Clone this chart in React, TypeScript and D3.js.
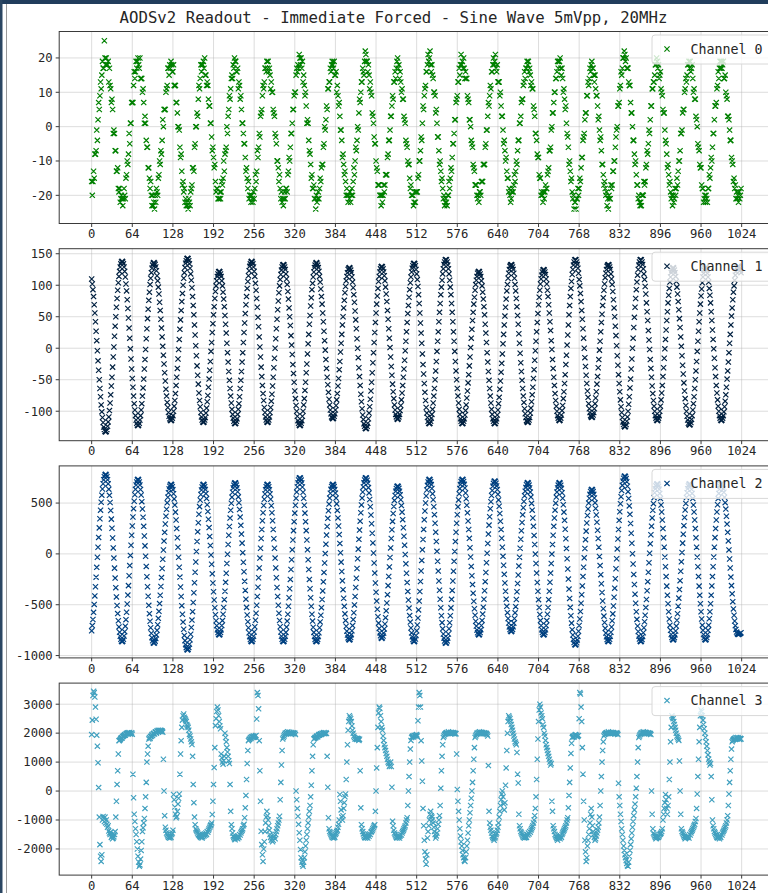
import React from "react";
import * as d3 from "d3";

const xTickValues = [0, 64, 128, 192, 256, 320, 384, 448, 512, 576, 640, 704, 768, 832, 896, 960, 1024];
const channelNames = ["Channel 0", "Channel 1", "Channel 2", "Channel 3"];
const channelColors = ["#008000", "#002040", "#004080", "#40a0bf"];
const ch0YTicks = [-20, -10, 0, 10, 20];
const ch1YTicks = [-100, -50, 0, 50, 100, 150];
const ch2YTicks = [-1000, -500, 0, 500];
const ch3YTicks = [-2000, -1000, 0, 1000, 2000, 3000];
const ch0Domain = [-28.2, 27.7];
const ch1Domain = [-146.8, 158];
const ch2Domain = [-1023, 865.6];
const ch3Domain = [-2903, 3729];
const xDomain = [-51.15, 1074.15];
const titleText = "AODSv2 Readout - Immediate Forced - Sine Wave 5mVpp, 20MHz";

const channel0 = [
-16,-20,-16,-13,-15,-8,-8,-7,-1,-4,2,7,5,9,13,11,15,19,17,17,25,20,
18,20,18,18,19,13,17,12,11,7,8,5,-2,-1,-2,-7,-7,-13,-13,-12,-18,-19,-18,-22,-21,-20,
-21,-23,-21,-18,-20,-21,-15,-14,-10,-11,-8,-2,-5,1,1,7,7,7,12,16,14,16,19,17,19,
20,18,17,20,14,14,14,10,11,7,1,3,1,-4,-6,-6,-12,-12,-15,-18,-16,-20,-23,-20,-23,
-22,-24,-20,-22,-18,-19,-20,-15,-14,-10,-11,-7,-8,-4,2,0,5,5,5,10,11,12,17,17,15,18,17,
19,18,16,16,18,12,12,12,7,7,4,0,0,-1,-6,-9,-8,-13,-17,-16,-19,-18,-22,-21,-23,-22,
-23,-24,-21,-22,-23,-19,-18,-17,-12,-12,-13,-6,-5,0,0,4,3,8,12,11,14,18,16,18,18,
19,17,20,15,15,12,13,12,8,6,6,1,1,-3,-7,-6,-9,-12,-11,-16,-19,-18,-18,-21,-21,
-21,-19,-21,-19,-16,-17,-15,-10,-13,-8,-7,-6,0,-2,3,5,9,8,11,14,15,14,18,17,20,
19,19,16,16,17,11,13,12,8,9,5,1,1,-2,-5,-5,-9,-13,-12,-15,-18,-16,-21,-20,-20,-22,
-20,-21,-22,-19,-21,-18,-14,-16,-13,-7,-9,-6,-2,-3,3,4,5,9,12,11,13,17,17,16,19,
17,19,16,17,15,11,13,10,10,5,4,3,-2,-3,-5,-10,-10,-12,-16,-14,-18,-21,-19,-22,-21,
-23,-21,-19,-21,-18,-18,-19,-14,-13,-9,-10,-6,-2,-2,1,5,5,9,10,10,15,17,16,18,17,21,
20,18,20,17,19,13,15,12,9,10,6,1,2,1,-4,-7,-8,-11,-15,-14,-18,-18,-17,-21,-21,-24,
-20,-22,-21,-19,-21,-18,-15,-16,-12,-11,-11,-6,-5,0,-1,2,6,5,11,11,13,13,17,16,18,19,
18,17,19,15,15,16,10,12,9,6,7,3,-1,-1,-4,-9,-8,-11,-14,-13,-16,-20,-18,-20,-22,-20,
-21,-19,-22,-20,-18,-20,-16,-12,-14,-10,-6,-7,-4,0,-1,4,8,7,10,13,13,17,16,15,19,22,
21,19,19,16,18,15,11,13,10,9,4,3,1,-3,-5,-5,-10,-12,-13,-17,-17,-17,-20,-20,-23,
-20,-22,-20,-17,-19,-17,-14,-14,-14,-9,-8,-4,-4,-1,3,3,6,9,8,13,13,16,14,17,19,
20,17,18,14,16,13,10,11,8,8,3,2,1,-4,-5,-6,-10,-11,-11,-15,-18,-17,-20,-20,-20,-23,
-22,-19,-22,-19,-19,-19,-15,-14,-10,-10,-7,-3,-4,1,6,5,9,11,12,16,16,18,21,19,
20,22,18,16,18,15,14,10,10,9,4,5,1,-3,-3,-7,-11,-10,-13,-16,-15,-18,-21,-20,-23,-22,
-21,-22,-23,-20,-20,-16,-18,-15,-12,-13,-9,-5,-5,-2,2,2,7,8,9,13,13,17,15,18,21,18,
19,17,20,17,14,16,14,14,9,8,7,2,2,0,-4,-5,-6,-11,-12,-13,-17,-17,-17,-20,-21,-20,
-22,-19,-19,-20,-16,-16,-16,-11,-11,-11,-6,-5,-1,-1,3,7,6,9,12,11,16,16,18,20,18,
19,21,17,16,18,13,13,13,9,10,6,3,3,-1,-5,-4,-7,-10,-9,-13,-15,-15,-19,-18,-20,-22,
-21,-19,-18,-19,-17,-14,-16,-13,-10,-11,-7,-4,-4,1,1,3,7,8,8,12,13,16,14,17,17,19,
18,19,16,17,15,12,13,11,11,6,5,3,-2,-2,-4,-8,-9,-9,-14,-15,-15,-20,-19,-20,-22,
-19,-21,-19,-17,-18,-18,-14,-13,-12,-7,-7,-6,-1,0,4,4,7,10,10,14,14,16,19,17,19,
19,20,17,15,17,14,10,11,8,5,6,1,-2,-3,-6,-11,-10,-13,-16,-15,-19,-21,-20,-24,-22,
-22,-24,-21,-21,-18,-20,-18,-15,-16,-12,-9,-9,-4,-3,-2,2,4,4,9,9,13,12,14,17,16,18,
19,17,17,15,13,15,11,9,9,6,2,3,-1,-4,-3,-7,-11,-11,-14,-17,-16,-18,-20,-19,-23,-21,
-24,-20,-21,-21,-17,-18,-17,-13,-13,-10,-10,-6,-3,-1,0,6,6,7,11,12,16,15,17,20,20,22,
21,19,20,17,17,17,13,12,12,7,4,4,0,-4,-4,-8,-11,-10,-14,-17,-17,-21,-20,-22,-23,
-22,-23,-20,-20,-20,-16,-17,-16,-12,-11,-7,-8,-5,-1,-2,2,6,6,11,11,13,13,15,18,18,20,
19,17,18,14,15,16,11,10,9,5,4,4,-1,-4,-5,-8,-12,-11,-14,-17,-16,-19,-21,-20,-23,
-20,-22,-21,-18,-20,-18,-15,-17,-13,-10,-10,-7,-2,-2,-1,4,5,5,10,11,14,13,15,18,18,19,
17,19,16,17,18,14,10,11,8,8,3,2,0,-5,-6,-7,-11,-12,-12,-17,-18,-18,-22,-21,-20,
-22,-20,-21,-22,-18,-18,-14,-15,-12,-9,-10,-6,-2,-2,2,6,6,7,11,12,16,14,17,19,17,
19,17,18,19,14,14,15,10,9,8,3,3,2,-1,-4,-4,-9,-10,-11,-16,-15,-18,-17,-21,-19,-21,
-20,-22,-19,-21,-20,-18
];

const channel1 = [
110,102,93,82,69,56,42,27,12,-4,-20,-35,-50,-64,-77,-90,-101,-110,-118,-125,-129,-132,
-133,-132,-129,-124,-117,-109,-99,-87,-74,-60,-46,-30,-14,2,19,35,50,65,79,92,104,114,122,129,134,137,
138,137,134,129,122,113,102,91,77,63,48,32,16,-1,-17,-33,-48,-62,-76,-88,-98,-107,-114,-119,-122,
-123,-122,-119,-114,-107,-98,-88,-76,-63,-49,-33,-18,-2,15,31,47,62,76,89,101,111,120,127,132,135,
136,135,133,129,123,115,107,97,86,73,60,46,32,18,3,-11,-25,-39,-52,-65,-76,-86,-94,-102,-108,-112,-114,
-115,-114,-111,-107,-100,-92,-83,-72,-59,-46,-32,-17,-2,14,30,45,60,74,87,100,111,120,128,135,139,142,
143,142,139,134,127,118,108,96,82,68,53,37,21,4,-12,-28,-43,-57,-71,-83,-93,-102,-109,-114,-117,
-118,-117,-114,-110,-103,-95,-85,-75,-62,-49,-35,-21,-5,9,25,39,53,66,79,90,99,107,114,118,121,
122,121,118,114,107,99,89,78,66,52,38,24,8,-7,-22,-37,-51,-64,-76,-87,-97,-105,-111,-116,-119,
-120,-119,-116,-112,-105,-97,-88,-77,-64,-51,-37,-22,-7,9,25,40,55,69,82,95,106,115,123,130,134,137,
138,137,134,129,122,114,103,92,79,65,49,34,18,2,-14,-30,-45,-59,-72,-83,-94,-102,-109,-114,-117,
-118,-117,-114,-109,-102,-94,-84,-73,-60,-46,-31,-16,0,15,31,46,61,75,88,99,109,117,124,129,132,
133,132,129,125,118,110,101,90,78,64,50,36,20,5,-10,-26,-40,-54,-68,-80,-91,-100,-108,-115,-119,-122,
-123,-122,-119,-115,-108,-100,-90,-80,-67,-54,-39,-25,-9,7,22,38,52,67,80,93,103,113,121,128,132,135,
136,135,132,128,122,114,105,94,82,70,56,42,27,12,-3,-18,-32,-46,-58,-70,-81,-90,-98,-104,-109,-111,
-112,-111,-108,-104,-98,-91,-82,-72,-60,-48,-34,-21,-6,8,22,37,50,64,76,88,98,107,114,120,125,127,
128,127,124,120,113,105,96,85,73,59,45,31,15,0,-15,-31,-45,-59,-73,-85,-96,-106,-113,-120,-124,-127,
-128,-127,-124,-119,-112,-103,-93,-81,-68,-54,-39,-23,-7,9,25,41,56,70,83,95,106,114,121,126,129,
130,129,126,121,115,107,97,86,74,60,46,31,16,1,-14,-29,-43,-57,-69,-80,-90,-98,-105,-109,-112,
-113,-112,-109,-105,-99,-91,-82,-71,-59,-46,-33,-19,-4,11,26,41,55,68,81,93,104,113,121,127,131,134,
135,134,131,125,118,109,98,85,71,56,40,24,8,-9,-26,-41,-56,-70,-83,-94,-103,-110,-116,-119,
-120,-119,-116,-111,-105,-97,-87,-76,-64,-50,-36,-21,-5,11,26,42,57,71,85,97,108,118,126,133,137,140,
141,140,137,132,126,118,108,97,85,71,57,42,26,11,-5,-21,-36,-50,-64,-76,-87,-97,-105,-112,-116,-119,
-120,-119,-116,-112,-106,-99,-90,-79,-68,-55,-42,-28,-14,1,16,30,44,57,70,81,92,101,108,114,119,121,
122,121,118,114,107,99,89,78,66,53,38,24,9,-7,-22,-37,-51,-64,-76,-87,-97,-105,-112,-116,-119,
-120,-119,-116,-112,-106,-98,-88,-78,-65,-52,-38,-24,-9,7,22,37,51,65,78,91,101,111,119,125,130,132,
133,132,129,125,119,111,101,91,79,66,52,38,23,8,-8,-23,-37,-51,-64,-76,-86,-96,-104,-110,-115,-117,
-118,-117,-114,-110,-103,-95,-85,-74,-62,-48,-34,-19,-4,11,26,41,55,69,81,92,102,110,116,121,124,
125,124,121,117,110,102,92,82,69,56,42,28,12,-2,-18,-32,-46,-59,-72,-83,-92,-100,-107,-111,-114,
-115,-114,-111,-106,-99,-91,-80,-69,-56,-42,-26,-11,5,21,37,53,68,82,95,106,117,125,132,137,140,
141,140,137,133,127,119,109,99,87,74,60,46,31,16,0,-15,-29,-43,-56,-68,-78,-88,-96,-102,-107,-109,
-110,-109,-106,-102,-96,-88,-79,-69,-57,-45,-31,-18,-3,11,26,41,54,68,80,92,102,112,119,125,130,132,
133,132,129,125,118,110,101,90,77,64,50,35,20,4,-12,-27,-42,-56,-69,-82,-93,-102,-110,-117,-121,-124,
-125,-124,-121,-116,-109,-100,-89,-77,-63,-49,-33,-17,0,16,33,49,65,79,93,105,116,125,132,137,140,
141,140,137,133,126,118,109,98,86,72,58,44,28,13,-2,-18,-32,-46,-60,-72,-83,-92,-100,-107,-111,-114,
-115,-114,-111,-107,-100,-92,-82,-71,-59,-45,-31,-16,-1,14,29,44,58,72,84,95,105,113,120,124,127,
128,127,124,120,114,106,97,86,74,61,47,33,18,3,-12,-27,-41,-55,-68,-80,-91,-100,-108,-114,-119,-121,
-122,-121,-118,-113,-107,-98,-88,-77,-64,-50,-36,-21,-5,11,27,42,56,70,83,94,104,113,119,124,127,
128,127,124,119,113,105,95,84,72,58,44,29,14,-1,-16,-31,-45,-59,-71,-82,-92,-100,-107,-111,-114,
-115,-114,-111,-107,-101,-93,-84,-74,-62,-49,-36,-22,-7,8,22,37,51,64,77,89,99,108,116,122,127,129,
130,130,129,127,124,120
];

const channel2 = [
-757,-705,-645,-575,-497,-413,-323,-229,-132,-33,65,162,256,346,430,508,578,638,690,730,759,777,
783,777,759,729,689,637,576,506,427,342,252,157,59,-41,-140,-238,-332,-423,-508,-587,-657,-718,-770,-810,-840,-858,
-864,-858,-839,-808,-765,-711,-647,-574,-493,-405,-312,-215,-115,-15,85,183,275,363,445,518,582,635,678,708,728,
734,728,708,678,634,579,514,442,360,271,176,79,-23,-123,-225,-323,-417,-506,-588,-662,-727,-780,-824,-854,-874,
-880,-875,-858,-833,-797,-752,-697,-634,-565,-489,-407,-321,-233,-143,-52,38,126,212,294,370,439,502,557,602,638,665,680,
685,679,661,632,592,541,480,411,333,249,159,65,-33,-131,-228,-326,-419,-509,-594,-671,-741,-802,-853,-893,-922,-940,
-946,-939,-920,-889,-845,-791,-724,-651,-568,-478,-382,-284,-181,-80,23,122,217,307,390,465,530,584,628,659,678,
685,679,661,633,593,544,483,417,341,259,172,83,-11,-102,-196,-286,-372,-454,-530,-598,-657,-706,-746,-774,-792,
-798,-792,-774,-746,-705,-656,-594,-527,-450,-368,-280,-190,-95,-3,92,183,270,352,429,498,558,607,648,676,694,
700,694,677,648,611,561,503,437,362,281,195,106,12,-82,-176,-270,-359,-445,-526,-601,-667,-726,-775,-814,-842,-858,
-864,-858,-839,-810,-768,-717,-653,-584,-505,-419,-328,-235,-138,-41,56,151,240,326,405,476,538,589,631,660,679,
685,679,660,631,589,538,474,405,326,240,149,56,-41,-138,-235,-330,-419,-505,-584,-655,-717,-768,-810,-839,-858,
-864,-858,-840,-811,-772,-720,-661,-593,-515,-431,-343,-251,-154,-57,40,137,229,317,401,479,547,608,658,698,727,744,
750,744,726,697,658,606,547,479,401,317,229,137,40,-57,-154,-251,-343,-431,-515,-593,-661,-722,-772,-812,-841,-858,
-864,-858,-841,-813,-776,-726,-669,-604,-529,-449,-364,-275,-182,-89,3,96,185,270,350,425,490,549,597,635,663,679,
685,679,662,634,598,549,492,428,354,274,190,103,11,-81,-173,-265,-352,-436,-516,-590,-654,-712,-760,-798,-826,-841,
-847,-841,-823,-794,-756,-705,-646,-579,-502,-419,-331,-240,-144,-48,47,143,234,322,405,482,549,609,659,699,728,744,
750,744,725,695,652,600,535,464,383,296,203,108,9,-90,-189,-286,-377,-464,-545,-618,-681,-733,-776,-806,-825,
-831,-825,-807,-779,-738,-689,-627,-560,-483,-401,-312,-222,-128,-35,59,151,238,320,397,466,526,575,616,644,662,
668,662,645,617,581,532,475,411,337,257,173,86,-6,-98,-190,-282,-369,-453,-533,-607,-671,-729,-777,-815,-843,-858,
-864,-857,-837,-803,-757,-699,-630,-551,-464,-370,-271,-168,-64,40,142,241,335,422,501,570,628,674,708,728,
735,729,711,682,643,591,532,464,386,302,214,122,25,-72,-169,-266,-358,-446,-530,-608,-676,-737,-788,-828,-857,-874,
-880,-874,-856,-827,-788,-736,-677,-609,-531,-447,-359,-267,-170,-73,24,121,213,301,385,463,531,592,642,682,711,728,
735,729,712,684,648,599,542,478,404,324,240,153,61,-31,-123,-215,-302,-386,-466,-540,-604,-662,-710,-748,-776,-791,
-798,-792,-774,-745,-704,-654,-592,-524,-446,-363,-273,-183,-87,7,102,195,283,366,444,513,574,624,665,694,712,
718,712,696,669,633,586,531,469,398,321,239,154,65,-24,-112,-201,-286,-368,-445,-516,-578,-635,-680,-718,-744,-759,
-765,-759,-743,-717,-681,-635,-580,-519,-448,-372,-291,-208,-120,-32,56,144,228,309,384,454,516,572,617,654,680,695,
701,695,677,649,608,559,497,430,353,271,182,92,-2,-95,-189,-281,-368,-450,-527,-596,-656,-705,-746,-774,-792,
-798,-792,-774,-746,-705,-656,-594,-527,-450,-368,-279,-189,-95,-2,92,184,271,353,430,499,559,608,649,677,695,
701,695,676,645,602,548,484,411,330,242,149,52,-48,-148,-248,-346,-438,-526,-608,-681,-745,-798,-841,-871,-891,
-897,-891,-874,-846,-810,-761,-704,-640,-566,-486,-402,-315,-223,-131,-39,53,140,224,304,378,442,500,548,586,614,629,
635,629,613,586,550,502,446,383,311,233,151,65,-25,-115,-204,-294,-380,-463,-540,-612,-675,-732,-779,-816,-843,-858,
-864,-857,-840,-810,-771,-719,-658,-590,-512,-427,-337,-244,-146,-48,49,147,240,330,415,493,562,624,674,715,744,761,
767,760,741,710,666,612,545,472,389,299,203,105,2,-99,-202,-301,-396,-486,-569,-644,-709,-763,-807,-838,-857,
-864,-858,-841,-813,-775,-726,-668,-603,-528,-448,-362,-273,-180,-87,6,99,188,273,354,429,494,553,601,640,668,684,
690,684,665,636,595,544,481,412,333,249,158,66,-31,-126,-223,-317,-406,-490,-569,-640,-701,-752,-793,-822,-841,
-847,-841,-824,-796,-759,-710,-653,-589,-515,-435,-351,-263,-171,-78,14,106,194,278,358,432,496,555,602,641,668,684,
690,684,665,636,595,544,481,412,333,249,158,66,-31,-126,-223,-317,-406,-490,-569,-640,-701,-752,-793,-822,-841,
-847,-841,-822,-793,-752,-701,-638,-569,-490,-406,-315,-223,-126,-31,66,160,249,333,412,483,544,595,636,665,684,
690,684,668,641,606,558,504,441,370,293,212,128,39,-50,-139,-228,-312,-393,-470,-541,-604,-660,-706,-743,-769,-784,
-790,-792,-789,-785,-780,-775
];

const channel3 = [
1950,2450,3300,3450,3400,3250,2900,2480,1930,1550,980,120,-900,-1850,-2250,-2430,-2200,
-1000,-880,-950,-1050,-900,-1100,-1000,-1150,-1250,-1200,-1380,-1450,-1500,-1420,-1600,-1550,-1650,-1620,-1580,-1500,-1400,
-900,-350,230,700,1280,1740,
1750,1780,1820,1850,1830,1880,1900,1920,1950,1930,1970,2000,1990,2010,1980,2020,2000,1970,1990,2010,1960,
580,-230,-800,
-1050,-1300,-1500,-1750,-2000,-2250,-2450,-2600,-2550,-2350,-2050,-1750,-1400,-1270,-1100,-950,-600,-200,300,1000,
1280,1550,1800,1850,1820,1880,1900,1950,1920,1980,2000,1970,2030,2050,2000,2080,2050,2100,2060,2080,2100,2050,2090,2070,2030,
1100,0,-850,-1250,
-1350,-1450,-1500,-1550,-1600,-1580,-1620,-1550,-1600,-1500,-1450,-1350,
-120,-300,-550,-800,-920,-880,-700,-450,-250,-100,
580,1280,1740,2200,2450,
2600,2660,2550,2500,2450,2400,2300,2250,2200,2100,1960,1900,1800,1700,
1610,1200,230,-400,-900,-1160,-1300,
-1350,-1400,-1450,-1500,-1520,-1550,-1580,-1600,-1560,-1620,-1580,-1500,-1550,-1480,-1520,-1450,-1500,-1400,-1420,-1350,-1300,-1250,-1200,-1160,-1100,
-810,-350,230,810,1500,
2260,2500,2750,2900,2800,2600,2400,2250,2150,1280,1150,1000,930,1050,1200,2000,1850,1700,1500,1350,1200,1050,950,
230,-700,
-1160,-1300,-1450,-1550,-1600,-1650,-1680,-1620,-1600,-1580,-1650,-1550,-1600,-1500,-1520,-1450,-1400,-1350,-1300,-1200,-1150,
-920,-580,-150,400,950,1400,1740,
1780,1800,1850,1820,1870,1880,1850,1900,1860,1880,1900,1920,
2490,3400,3300,2840,1740,700,-350,-1390,-1850,-2200,-2430,
-2000,-1750,-1400,-1100,-900,-700,-850,-1000,-1200,-1350,-1500,-1600,-1700,-1650,-1750,-1700,-1600,-1550,-1650,-1500,-1400,-1300,-1200,-1100,-1000,
-870,-300,300,900,1400,1800,
1850,1900,1950,2000,1980,2020,2000,2050,1990,2010,2030,2000,1970,2020,2000,1980,2010,1990,2000,1950,
0,-300,-600,-870,-1150,-1440,-1700,-2020,-2300,-2450,-2540,-2600,-2450,-2300,
-2100,-1900,-1700,-1500,-1300,-1100,-900,-700,-500,-200,200,700,1200,1600,
1800,1820,1850,1840,1880,1900,1870,1920,1950,1930,1960,1980,1950,2000,1990,2000,2020,1980,2000,2010,1990,
1200,130,-920,-1300,
-1400,-1450,-1500,-1550,-1600,-1580,-1620,-1550,-1600,-1500,-1450,-1400,-1350,-1250,-1150,-1000,
-120,-350,-650,-900,-1000,-850,-600,-400,-200,-100,
400,1000,1600,2100,2400,
2600,2550,2500,2400,2250,2100,2000,1900,1850,1800,1820,
1800,1780,1820,1800,1750,1790,700,-580,-1160,
-1300,-1400,-1480,-1550,-1600,-1620,-1580,-1600,-1550,-1620,-1500,-1560,-1480,-1500,-1420,-1400,-1350,-1300,-1250,-1200,-1160,
-700,0,800,1500,2200,
2700,2900,2850,2600,2400,
2200,2100,1900,1750,1600,1500,1400,1300,1200,1100,1000,950,850,900,1000,850,130,
-1040,-1200,-1350,-1450,-1500,-1550,-1600,-1620,-1580,-1600,-1560,-1620,-1550,-1500,-1520,-1450,-1400,-1350,-1300,-1250,-1200,-1100,-1000,
-920,-500,0,500,1000,1450,1750,
1850,1880,1900,1870,1920,1900,1930,1910,1950,1900,
2430,2900,3400,3300,2900,1740,1040,340,-600,
-1200,-1700,-2100,-2350,-2530,
-2200,-1620,-1400,-1200,-1000,-800,-700,-850,-900,-1000,-1100,-1250,-1400,-1500,-1620,-1550,-1450,-1300,-1150,-1000,-850,
-500,100,700,1200,1600,1850,
1900,1950,1980,2000,2020,1990,2000,2050,2010,2000,1980,2030,2000,2010,1990,2020,2000,1970,2000,1980,
1280,55,-350,-700,-1000,-1300,-1550,-1750,-1900,-2050,-2200,-2300,-2400,-2430,
-2300,-2100,-1900,-1700,-1450,-1200,-1000,-750,-500,-250,0,300,700,1100,1500,1850,
1900,1950,2000,1980,2020,2000,2050,2010,1990,2030,2000,2020,1980,2000,2010,1970,2000,1990,1950,1900,
880,-700,-1100,-1250,
-1350,-1450,-1550,-1600,-1650,-1700,-1620,-1580,-1500,-1450,-1350,-1250,-1100,
-900,-700,-500,-300,-100,0,-200,-450,-650,-400,200,
800,1400,2000,2400,
2600,2550,2500,2400,2300,2200,2100,2000,1900,1800,1700,1650,1600,
1330,580,280,-800,
-1200,-1300,-1400,-1450,-1500,-1550,-1600,-1580,-1620,-1600,-1550,-1600,-1500,-1520,-1450,-1480,-1400,-1420,-1350,-1300,-1250,-1200,-1100,-1000,-850,-600,
-200,400,1100,1800,2400,
2800,3000,2900,2700,2600,2500,2300,2200,2000,
1900,1750,1600,1500,1400,1300,1200,1100,1000,900,950,-350,-700,
-1200,-1300,-1400,-1500,-1550,-1600,-1650,-1700,-1620,-1600,-1580,-1650,-1550,-1600,-1500,-1450,-1400,-1350,-1300,-1250,-1200,-1100,-1000,-920,
-580,-150,300,800,1300,1650,1850,
1880,1900,1870,1920,1950,1900,1930,1880,1900,1920,
2500,3400,3350,2900,2400,1500,580,-350,
-1000,-1700,-2100,-2430,-2300,-1900,
-1700,-1500,-1300,-1100,-800,-600,-900,-1200,-1400,-1500,-1600,-1700,-1650,-1550,-1450,-1350,-1250,-1100,-900,
-500,0,500,1000,1400,1700,1900,
1950,1980,2000,2020,1990,2000,2050,2010,2000,1980,2030,2000,2010,1990,2020,2000,1970,2000,1980,2010,1990,1950,
270,-200,-500,-800,-1050,-1300,-1500,-1700,-1900,-2050,-2200,-2300,-2400,-2500,-2580,-2600,
-2450,-2250,-2050,-1850,-1650,-1450,-1250,-1050,-850,-650,-450,-200,100,500,1000,1500,1850,
1900,1950,2000,1980,2020,2000,2050,2010,1990,2030,2000,2020,1980,2000,2010,1970,2000,1990,1950,
0,-800,
-1300,-1450,-1500,-1550,-1600,-1650,-1620,-1600,-1580,-1600,-1550,-1500,-1480,-1450,-1400,-1300,
-1000,-800,-600,-400,-120,-300,-600,-800,-500,-200,
400,1000,1700,2200,
2600,2550,2500,2400,2300,2200,2100,2000,1900,1850,1800,1750,1040,
0,-800,
-1300,-1400,-1450,-1500,-1550,-1600,-1650,-1620,-1600,-1580,-1600,-1550,-1620,-1500,-1520,-1450,-1400,-1350,-1300,-1250,-1200,-1150,-1050,-950,
-600,-100,500,1100,1700,2200,
2600,2800,2750,2600,2450,
2300,2150,2000,1850,1700,1550,1400,1250,1100,1000,900,950,500,-300,
-1000,-1200,-1300,-1400,-1450,-1500,-1550,-1600,-1620,-1580,-1600,-1650,-1550,-1600,-1500,-1520,-1450,-1400,-1350,-1300,-1250,-1200,-1100,-1000,-850,
-500,-100,300,700,1100,1450,1700,
1750,1780,1800,1820,1800,1850,1830,1800,1850,1820,1800,1780,1820,1800
];

const channelValues = [channel0, channel1, channel2, channel3];
const channelYTicks = [ch0YTicks, ch1YTicks, ch2YTicks, ch3YTicks];
const channelDomains = [ch0Domain, ch1Domain, ch2Domain, ch3Domain];

const W = 768;
const H = 893;
const plotLeft = 59.2;
const plotRight = 773.5;
const panelTop0 = 31.5;
const panelHeight = 192;
const panelStep = 217.2;
const mono = "'DejaVu Sans Mono', monospace";

function markerPath(values: number[], x: d3.ScaleLinear<number, number>, y: d3.ScaleLinear<number, number>, s: number) {
  let p = "";
  values.forEach((v, i) => {
    const cx = x(i);
    const cy = y(v);
    p += `M${(cx - s).toFixed(2)},${(cy - s).toFixed(2)}L${(cx + s).toFixed(2)},${(cy + s).toFixed(2)}M${(cx - s).toFixed(2)},${(cy + s).toFixed(2)}L${(cx + s).toFixed(2)},${(cy - s).toFixed(2)}`;
  });
  return p;
}

function Panel({ index }: { index: number }) {
  const top = panelTop0 + index * panelStep;
  const bottom = top + panelHeight;
  const x = d3.scaleLinear().domain(xDomain).range([plotLeft, plotRight]);
  const y = d3.scaleLinear().domain(channelDomains[index]).range([bottom, top]);
  const color = channelColors[index];
  const ticks = channelYTicks[index];
  const ms = 2.6;
  const lx = 667;
  const ly = top + 17.5;
  return (
    <g>
      {xTickValues.map((t) => (
        <line key={"gx" + t} x1={x(t)} x2={x(t)} y1={top} y2={bottom} stroke="#b0b0b0" strokeOpacity={0.55} strokeWidth={0.8} />
      ))}
      {ticks.map((t) => (
        <line key={"gy" + t} x1={plotLeft} x2={plotRight} y1={y(t)} y2={y(t)} stroke="#b0b0b0" strokeOpacity={0.55} strokeWidth={0.8} />
      ))}
      <path d={markerPath(channelValues[index], x, y, ms)} stroke={color} strokeWidth={1.15} fill="none" />
      <rect x={plotLeft} y={top} width={plotRight - plotLeft} height={panelHeight} fill="none" stroke="#3a3a3a" strokeWidth={1} />
      {ticks.map((t) => (
        <g key={"yt" + t}>
          <line x1={plotLeft - 3.5} x2={plotLeft} y1={y(t)} y2={y(t)} stroke="#3a3a3a" strokeWidth={1} />
          <text x={plotLeft - 6.5} y={y(t) + 4.3} textAnchor="end" fontFamily={mono} fontSize={12.2} fill="#262626">
            {t}
          </text>
        </g>
      ))}
      {xTickValues.map((t) => (
        <g key={"xt" + t}>
          <line x1={x(t)} x2={x(t)} y1={bottom} y2={bottom + 3.5} stroke="#3a3a3a" strokeWidth={1} />
          <text x={x(t)} y={bottom + 14.6} textAnchor="middle" fontFamily={mono} fontSize={12.2} fill="#262626">
            {t}
          </text>
        </g>
      ))}
      <rect x={652} y={top + 3.5} width={130} height={29} rx={3} fill="#ffffff" fillOpacity={0.8} stroke="#d8d8d8" strokeWidth={1} />
      <path d={`M${lx - ms},${ly - ms}L${lx + ms},${ly + ms}M${lx - ms},${ly + ms}L${lx + ms},${ly - ms}`} stroke={color} strokeWidth={1.15} />
      <text x={690.5} y={top + 22.3} fontFamily={mono} fontSize={13.3} fill="#262626">
        {channelNames[index]}
      </text>
    </g>
  );
}

export default function App() {
  return (
    <svg
      width={W}
      height={H}
      viewBox={`0 0 ${W} ${H}`}
      style={{ position: "absolute", left: 0, top: 0, background: "#ffffff", display: "block" }}
    >
      <rect x={0} y={0} width={W} height={H} fill="#ffffff" />
      {[0, 1, 2, 3].map((i) => (
        <Panel key={i} index={i} />
      ))}
      <text x={393.5} y={22.5} textAnchor="middle" fontFamily={mono} fontSize={15.7} fill="#262626">
        {titleText}
      </text>
      <rect x={0} y={0} width={W} height={4} fill="#213d5c" />
      <rect x={0} y={0} width={2.5} height={H} fill="#2b4662" />
      <line x1={6.5} x2={6.5} y1={4} y2={H} stroke="#9a9a9a" strokeWidth={1} />
    </svg>
  );
}
